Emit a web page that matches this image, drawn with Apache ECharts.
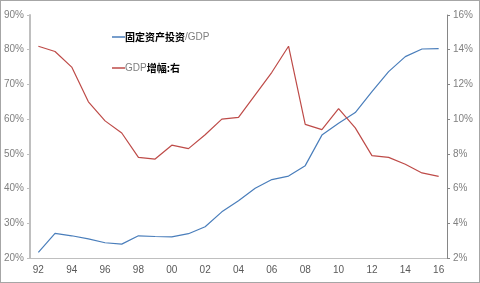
<!DOCTYPE html>
<html><head><meta charset="utf-8">
<script src="https://cdn.jsdelivr.net/npm/echarts@6/dist/echarts.min.js"></script>
<style>html,body{margin:0;padding:0;background:#fff}
#c{position:absolute;left:0;top:0;width:478px;height:281px;border:1px solid #a6a6a6;}</style>
</head><body><div id="c"></div>
<script>
const years = ['92','93','94','95','96','97','98','99','00','01','02','03','04','05','06','07','08','09','10','11','12','13','14','15','16'];
const investRatio = [21.6,27.1,26.4,25.5,24.4,24.0,26.4,26.2,26.1,27.0,29.0,33.3,36.5,40.1,42.6,43.6,46.6,55.4,58.8,61.9,67.9,73.7,78.0,80.2,80.3];
const gdpGrowth = [14.2,13.9,13.0,11.0,9.9,9.2,7.8,7.7,8.5,8.3,9.1,10.0,10.1,11.4,12.7,14.2,9.7,9.4,10.6,9.5,7.9,7.8,7.4,6.9,6.7];
const leftTicks = {min:20, max:90, step:10};
const rightTicks = {min:2, max:16, step:2};
const names = ['固定资产投资/GDP','GDP增幅:右'];

const chart = echarts.init(document.getElementById('c'), null, {renderer:'canvas'});
const font = 'Liberation Sans';
function richName(n){
  return n.replace(/([\u4e00-\u9fff:]+)|([^\u4e00-\u9fff:]+)/g, (m,a,b)=> a ? '{c|'+a+'}' : '{g|'+b+'}');
}
chart.setOption({
  animation:false,
  grid:{left:28,right:32,top:14,bottom:24},
  legend:{
    orient:'vertical', left:106, top:26, itemGap:21,
    icon:'rect', itemWidth:13, itemHeight:1.5,
    data:names,
    formatter: richName,
    textStyle:{
      padding:[0,0,0,-5],
      rich:{
        c:{fontFamily:'Noto Sans CJK SC',fontSize:10,color:'#000',fontWeight:'bold'},
        g:{fontFamily:font,fontSize:10,color:'#7f7f7f'}
      }
    }
  },
  xAxis:{
    type:'category', data:years, boundaryGap:true,
    axisLine:{lineStyle:{color:'#bfbfbf',width:1}},
    axisTick:{interval:1,length:4,lineStyle:{color:'#bfbfbf'}},
    axisLabel:{interval:1,color:'#595959',fontFamily:font,fontSize:10,margin:7}
  },
  yAxis:[
    {type:'value',position:'left',min:leftTicks.min,max:leftTicks.max,interval:leftTicks.step,
     splitLine:{show:false},
     axisLine:{show:true,lineStyle:{color:'#bfbfbf',width:2}},
     axisTick:{show:true,length:3,lineStyle:{color:'#bfbfbf'}},
     axisLabel:{formatter:'{value}%',color:'#808080',fontFamily:font,fontSize:10,margin:6}},
    {type:'value',position:'right',min:rightTicks.min,max:rightTicks.max,interval:rightTicks.step,
     splitLine:{show:false},
     axisLine:{show:true,lineStyle:{color:'#868686',width:1}},
     axisTick:{show:true,length:3,lineStyle:{color:'#868686'}},
     axisLabel:{formatter:'{value}%',color:'#808080',fontFamily:font,fontSize:10,margin:6}}
  ],
  series:[
    {name:names[0],type:'line',yAxisIndex:0,data:investRatio,symbol:'none',
     lineStyle:{color:'#4a7ebb',width:1.2},itemStyle:{color:'#4a7ebb'}},
    {name:names[1],type:'line',yAxisIndex:1,data:gdpGrowth,symbol:'none',
     lineStyle:{color:'#be4b48',width:1.2},itemStyle:{color:'#be4b48'}}
  ]
});
</script></body></html>
